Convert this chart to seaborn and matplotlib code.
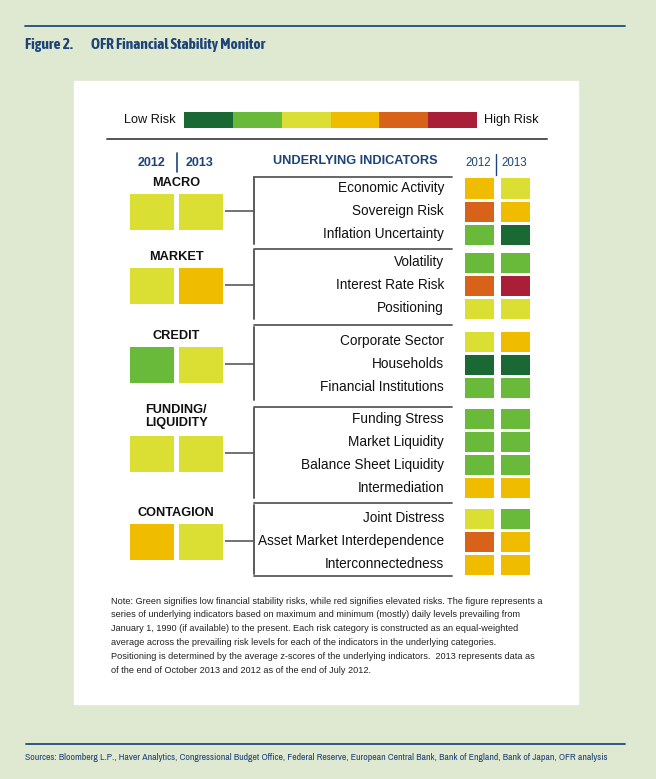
import numpy as np
import pandas as pd
import matplotlib
matplotlib.use("Agg")
import matplotlib.pyplot as plt
import matplotlib.patheffects as pe
from matplotlib.colors import ListedColormap
from matplotlib import font_manager
import seaborn as sns

# Risk scale: 0 = low risk (dark green) ... 5 = high risk (red)
risk_colors = ["#1a6934", "#69b93a", "#dbdf33", "#efbc00", "#d8621a", "#a81f37"]
risk_levels = [0, 1, 2, 3, 4, 5]

categories = ["MACRO", "MARKET", "CREDIT", "FUNDING/\nLIQUIDITY", "CONTAGION"]
category_2012 = [2, 2, 1, 2, 3]
category_2013 = [2, 3, 2, 2, 2]

macro_names = ["Economic Activity", "Sovereign Risk", "Inflation Uncertainty"]
macro_2012 = [3, 4, 1]
macro_2013 = [2, 3, 0]

market_names = ["Volatility", "Interest Rate Risk", "Positioning"]
market_2012 = [1, 4, 2]
market_2013 = [1, 5, 2]

credit_names = ["Corporate Sector", "Households", "Financial Institutions"]
credit_2012 = [2, 0, 1]
credit_2013 = [3, 0, 1]

funding_names = ["Funding Stress", "Market Liquidity", "Balance Sheet Liquidity", "Intermediation"]
funding_2012 = [1, 1, 1, 3]
funding_2013 = [1, 1, 1, 3]

contagion_names = ["Joint Distress", "Asset Market Interdependence", "Interconnectedness"]
contagion_2012 = [2, 4, 3]
contagion_2013 = [1, 3, 3]

years = ["2012", "2013"]

note_lines = [
    "Note: Green signifies low financial stability risks, while red signifies elevated risks. The figure represents a",
    "series of underlying indicators based on maximum and minimum (mostly) daily levels prevailing from",
    "January 1, 1990 (if available) to the present. Each risk category is constructed as an equal-weighted",
    "average across the prevailing risk levels for each of the indicators in the underlying categories.",
    "Positioning is determined by the average z-scores of the underlying indicators.  2013 represents data as",
    "of the end of October 2013 and 2012 as of the end of July 2012.",
]
sources = ("Sources: Bloomberg L.P., Haver Analytics, Congressional Budget Office, Federal Reserve, "
           "European Central Bank, Bank of England, Bank of Japan, OFR analysis")

groups = [
    (macro_names, macro_2012, macro_2013),
    (market_names, market_2012, market_2013),
    (credit_names, credit_2012, credit_2013),
    (funding_names, funding_2012, funding_2013),
    (contagion_names, contagion_2012, contagion_2013),
]

# ---- styling / layout (pixel units of a 656x779 canvas) ----
W, H = 656, 779
BG = "#dfe8d0"
NAVY = "#1d4478"
LINE = "#5a5a5a"

sns.set_style("white")
plt.rcParams["font.family"] = ["Liberation Sans", "DejaVu Sans"]


def weight_of(f):
    w = f.weight
    return w if isinstance(w, int) else font_manager.weight_dict.get(w, 400)


flist = font_manager.fontManager.ttflist
narrow_fonts = [f for f in flist if "Narrow" in f.name or "Condensed" in f.name]
narrow = sorted(f.name for f in narrow_fonts)[0] if narrow_fonts else "Liberation Sans"
bold_narrow = sorted(f.name for f in narrow_fonts if weight_of(f) >= 600)
title_font = bold_narrow[0] if bold_narrow else narrow
title_fx = [] if bold_narrow else [pe.withStroke(linewidth=0.9, foreground=NAVY)]

cmap = ListedColormap(risk_colors)
vmin, vmax = min(risk_levels) - 0.5, max(risk_levels) + 0.5

fig = plt.figure(figsize=(W / 100, H / 100), dpi=100, facecolor=BG)
ax = fig.add_axes([0, 0, 1, 1])
ax.set_xlim(0, W)
ax.set_ylim(H, 0)
ax.axis("off")
renderer = fig.canvas.get_renderer()


def px_axes(x0, y0, x1, y1):
    return fig.add_axes([x0 / W, 1 - y1 / H, (x1 - x0) / W, (y1 - y0) / H])


def fit(t, width):
    # scale font so the text spans the same width as in the reference
    w = t.get_window_extent(renderer).width
    t.set_fontsize(t.get_fontsize() * width / w)
    return t.get_fontsize()


# frame, rules, title
ax.add_patch(plt.Rectangle((74, 81), 504, 623, color="white", zorder=0))
ax.plot([25, 625], [25.7, 25.7], color="#1f4f7d", lw=1.3)
ax.plot([26, 625], [744, 744], color="#1f4f7d", lw=1.3)
t1 = ax.text(25, 45, "Figure 2.", family=title_font, fontweight="bold", fontsize=10,
             color=NAVY, va="center", path_effects=title_fx)
t2 = ax.text(91, 45, "OFR Financial Stability Monitor", family=title_font, fontweight="bold",
             fontsize=10, color=NAVY, va="center", path_effects=title_fx)
fs = fit(t2, 173)
t1.set_fontsize(fs)
ts = ax.text(25, 757, sources, family=narrow, fontsize=6, color=NAVY, va="center")
fit(ts, 582)

# risk scale legend
ax_leg = px_axes(184, 111.7, 477, 127.7)
sns.heatmap(np.array([risk_levels]), cmap=cmap, vmin=vmin, vmax=vmax, cbar=False,
            xticklabels=False, yticklabels=False, ax=ax_leg)
ax.text(176, 120, "Low Risk", fontsize=9.2, ha="right", va="center", color="#111111")
ax.text(484, 120, "High Risk", fontsize=9.2, ha="left", va="center", color="#111111")
ax.plot([107, 547], [139.3, 139.3], color="#555555", lw=1.4)

# headers
ax.text(152, 163, "2012", fontsize=9, fontweight="bold", color=NAVY, ha="center", va="center")
ax.text(200, 163, "2013", fontsize=9, fontweight="bold", color=NAVY, ha="center", va="center")
ax.plot([176.5, 176.5], [153, 172], color=NAVY, lw=1.2)
ax.text(355, 161, "UNDERLYING INDICATORS", fontsize=9.2, fontweight="bold", color=NAVY,
        ha="center", va="center")
ax.text(478, 163, "2012", fontsize=8.3, color=NAVY, ha="center", va="center")
ax.text(514, 163, "2013", fontsize=8.3, color=NAVY, ha="center", va="center")
ax.plot([496, 496], [154, 175], color=NAVY, lw=1.0)

row_h = 22.7
box_tops = [177, 251, 330, 408, 507]
rule_y = [177, 248.5, 325, 406.7, 502.7]
bracket = [(177, 244), (250, 319), (327, 400), (408, 498), (505, 574)]

for i, (ind_names, v12, v13) in enumerate(groups):
    n = len(ind_names)
    top = box_tops[i]
    bottom = top + n * row_h
    centre = (top + bottom) / 2

    # indicator cells, one heatmap per year column
    df = pd.DataFrame({"2012": v12, "2013": v13}, index=ind_names)
    for col, (x0, x1) in zip(years, [(462.5, 494.5), (498.5, 530.5)]):
        a = px_axes(x0, top - 0.5, x1, bottom + 0.5)
        sns.heatmap(df[[col]], cmap=cmap, vmin=vmin, vmax=vmax, cbar=False,
                    linewidths=0.75, linecolor="white", xticklabels=False,
                    yticklabels=(col == "2012"), ax=a)
        if col == "2012":
            a.tick_params(axis="y", length=0, pad=13.3, labelsize=9.8, labelcolor="#111111")
            plt.setp(a.get_yticklabels(), rotation=0, ha="right")
        a.set_ylabel("")

    # category squares
    cat = pd.DataFrame([[category_2012[i], category_2013[i]]], columns=years)
    a = px_axes(126.5, centre - 20.5, 224.5, centre + 20.5)
    sns.heatmap(cat, cmap=cmap, vmin=vmin, vmax=vmax, cbar=False, linewidths=3.6,
                linecolor="white", xticklabels=False, yticklabels=False, ax=a)
    nl = categories[i].count("\n")
    ax.text(176, centre - 18 - 10.5 - nl * 8, categories[i], fontsize=9.2,
            fontweight="bold", color="#111111", ha="center", va="center", linespacing=1.1)

    # connector and bracket
    ax.plot([223, 253.5], [centre, centre], color=LINE, lw=1.2)
    ax.plot([253.5, 253.5], bracket[i], color=LINE, lw=1.4)
    ax.plot([254, 452], [rule_y[i], rule_y[i]], color=LINE, lw=1.3)
ax.plot([254, 452], [575.7, 575.7], color=LINE, lw=1.3)

notes = [ax.text(111, 601 + k * 13.9, line, fontsize=6.0, color="#222222", va="center")
         for k, line in enumerate(note_lines)]
nfs = fit(notes[0], 435)
for t in notes[1:]:
    t.set_fontsize(nfs)

fig.savefig("out.png", dpi=100, facecolor=BG)
